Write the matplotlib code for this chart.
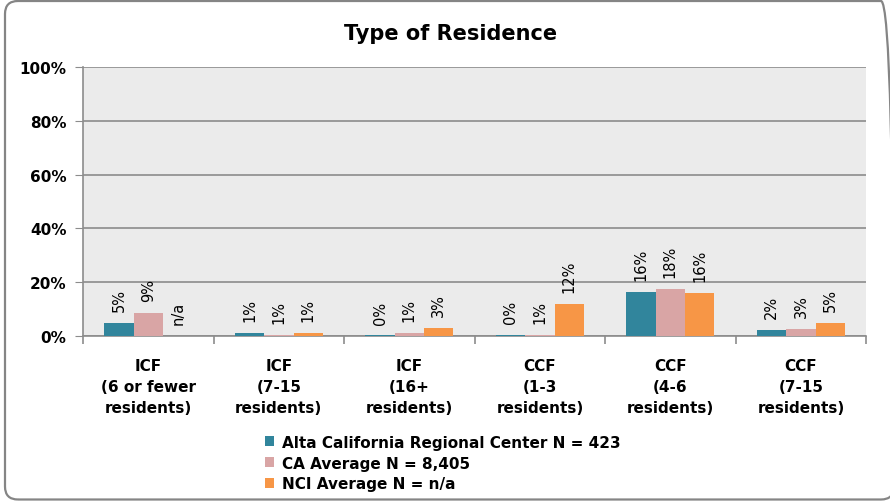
import matplotlib
matplotlib.use("Agg")
import matplotlib.pyplot as plt
import numpy as np
from matplotlib.patches import FancyBboxPatch

plt.rcParams['font.family'] = ['DejaVu Sans']

categories = ["ICF\n(6 or fewer\nresidents)", "ICF\n(7-15\nresidents)", "ICF\n(16+\nresidents)",
              "CCF\n(1-3\nresidents)", "CCF\n(4-6\nresidents)", "CCF\n(7-15\nresidents)"]
series_names = ["Alta California Regional Center N = 423", "CA Average N = 8,405", "NCI Average N = n/a"]
alta = [4.8, 1.0, 0.2, 0.4, 16.3, 2.2]
ca_avg = [8.5, 0.5, 1.2, 0.5, 17.5, 2.6]
nci = [0.0, 1.0, 3.0, 12.0, 16.0, 5.0]
alta_labels = ["5%", "1%", "0%", "0%", "16%", "2%"]
ca_labels = ["9%", "1%", "1%", "1%", "18%", "3%"]
nci_labels = ["n/a", "1%", "3%", "12%", "16%", "5%"]
colors = ["#31859C", "#D9A5A5", "#F79646"]

fig = plt.figure(figsize=(8.9, 5.02), dpi=100)
ax = fig.add_axes([0.0933, 0.3287, 0.880, 0.5359])

# outer rounded frame (inches)
frame = FancyBboxPatch((0.05, 0.015), 8.89, 4.985, boxstyle="round,pad=0,rounding_size=0.13",
                       transform=fig.dpi_scale_trans, fill=False, edgecolor="#858585", lw=1.6)
fig.patches.append(frame)

x = np.arange(len(categories))
w = 0.225
for i, (vals, labs) in enumerate([(alta, alta_labels), (ca_avg, ca_labels), (nci, nci_labels)]):
    bars = ax.bar(x + (i - 1) * w, vals, width=w, color=colors[i], label=series_names[i], zorder=3)
    for b, lab in zip(bars, labs):
        ax.annotate(lab, (b.get_x() + b.get_width() / 2, b.get_height()), xytext=(0, 8.5),
                    textcoords="offset points", rotation=90, ha="center", va="bottom",
                    fontsize=10.5, color="black")

ax.set_facecolor("#EBEBEB")
ax.set_ylim(0, 100)
ax.set_xlim(-0.5, len(categories) - 0.5)
ax.set_yticks(np.arange(0, 101, 20))
ax.set_yticklabels([f"{v}%" for v in range(0, 101, 20)], fontsize=11, fontweight="bold")
ax.yaxis.grid(True, color="#8C8C8C", lw=1.2, zorder=1)
ax.tick_params(axis="y", length=6, color="#8C8C8C", pad=6)

ax.set_xticks(x)
ax.set_xticklabels(categories, fontsize=11, fontweight="bold", linespacing=1.5)
ax.tick_params(axis="x", length=0, pad=16)
ax.set_xticks(np.arange(-0.5, len(categories), 1), minor=True)
ax.tick_params(axis="x", which="minor", length=6, color="#8C8C8C", width=1.2)

for s in ["top", "right"]:
    ax.spines[s].set_visible(False)
for s in ["left", "bottom"]:
    ax.spines[s].set_color("#8C8C8C")
    ax.spines[s].set_linewidth(1.2)

fig.text(0.506, 0.932, "Type of Residence", ha="center", va="center", fontsize=15, fontweight="bold")

fig.legend(loc="upper left", bbox_to_anchor=(0.298, 0.132), frameon=False,
           prop={"size": 11, "weight": "bold"}, handlelength=0.6, handleheight=0.6,
           handletextpad=0.5, labelspacing=0.38, borderpad=0, borderaxespad=0)

fig.savefig("out.png", dpi=100)
